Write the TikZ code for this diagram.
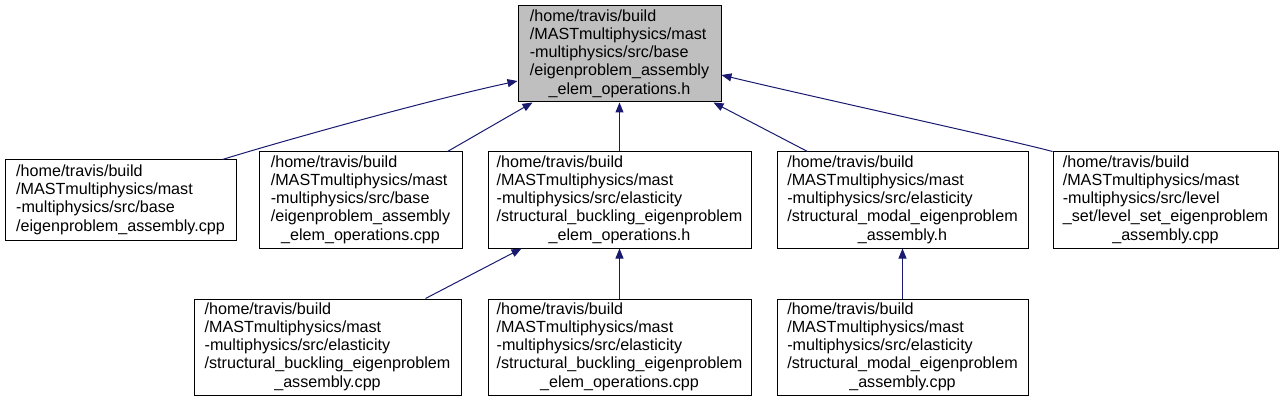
\documentclass[tikz,border=0pt]{standalone}
\usepackage{fontspec}
\setmainfont{Liberation Sans}
\usepackage{tikz}
\usetikzlibrary{arrows.meta,positioning,calc}
\definecolor{EdgeBlue}{HTML}{191970}
\definecolor{CurGray}{HTML}{BFBFBF}
\newcommand{\lastline}[1]{\multicolumn{1}{@{}c@{}}{#1}}
\tikzset{
  % File box
  FB/.style={rectangle,draw=black,line width=0.75pt,fill=white,
             inner sep=0pt,minimum height=72pt,
             font=\fontsize{12.1}{13.7}\selectfont},
  % Current file
  cur/.style={FB,fill=CurGray},
  % Include edge
  dep/.style={-{Triangle[length=7.5pt,width=6pt]},draw=EdgeBlue,line width=0.75pt}
}
\begin{document}
\begin{tikzpicture}[x=0.75pt,y=-0.75pt]
  \useasboundingbox (0,0) rectangle (1283,403);
  \node[cur,minimum width=152.25pt] (elemh) at (619.5,54)
    {\begin{tabular}{@{}l@{}}/home/travis/build\\/MASTmultiphysics/mast\\-multiphysics/src/base\\/eigenproblem\_assembly\\\lastline{\_elem\_operations.h}\end{tabular}};
  % second row
  \node[FB,minimum width=173.25pt,minimum height=60pt] (asmcpp) at (120.5,200)
    {\begin{tabular}{@{}l@{}}/home/travis/build\\/MASTmultiphysics/mast\\-multiphysics/src/base\\/eigenproblem\_assembly.cpp\end{tabular}};
  \node[FB,minimum width=152.25pt] (elemcpp) at (360.5,200)
    {\begin{tabular}{@{}l@{}}/home/travis/build\\/MASTmultiphysics/mast\\-multiphysics/src/base\\/eigenproblem\_assembly\\\lastline{\_elem\_operations.cpp}\end{tabular}};
  \node[FB,minimum width=197.25pt] (bucklingh) at (619.5,200)
    {\begin{tabular}{@{}l@{}}/home/travis/build\\/MASTmultiphysics/mast\\-multiphysics/src/elasticity\\/structural\_buckling\_eigenproblem\\\lastline{\_elem\_operations.h}\end{tabular}};
  \node[FB,minimum width=188.25pt] (modalh) at (902.5,200)
    {\begin{tabular}{@{}l@{}}/home/travis/build\\/MASTmultiphysics/mast\\-multiphysics/src/elasticity\\/structural\_modal\_eigenproblem\\\lastline{\_assembly.h}\end{tabular}};
  \node[FB,minimum width=168.75pt] (levelset) at (1165.5,200)
    {\begin{tabular}{@{}l@{}}/home/travis/build\\/MASTmultiphysics/mast\\-multiphysics/src/level\\\_set/level\_set\_eigenproblem\\\lastline{\_assembly.cpp}\end{tabular}};
  % third row
  \node[FB,minimum width=200.25pt] (bucklingasm) at (327.5,347)
    {\begin{tabular}{@{}l@{}}/home/travis/build\\/MASTmultiphysics/mast\\-multiphysics/src/elasticity\\/structural\_buckling\_eigenproblem\\\lastline{\_assembly.cpp}\end{tabular}};
  \node[FB,minimum width=197.25pt] (bucklingelem) at (619.5,347)
    {\begin{tabular}{@{}l@{}}/home/travis/build\\/MASTmultiphysics/mast\\-multiphysics/src/elasticity\\/structural\_buckling\_eigenproblem\\\lastline{\_elem\_operations.cpp}\end{tabular}};
  \node[FB,minimum width=188.25pt] (modalasm) at (902.5,347)
    {\begin{tabular}{@{}l@{}}/home/travis/build\\/MASTmultiphysics/mast\\-multiphysics/src/elasticity\\/structural\_modal\_eigenproblem\\\lastline{\_assembly.cpp}\end{tabular}};
  % edges
  \draw[dep] ($(asmcpp.north east)+(-14,0)$) .. controls (262,147) and (420,102) .. ($(elemh.west)+(0,27)$);
  \draw[dep] ($(elemcpp.north east)+(-15,0)$) -- ($(elemh.south west)+(15,0)$);
  \draw[dep] (bucklingh.north) -- (elemh.south);
  \draw[dep] ($(modalh.north west)+(31,0)$) -- ($(elemh.south east)+(-8,0)$);
  \draw[dep] (levelset.north west) .. controls (1010,140) and (800,94) .. ($(elemh.east)+(0,21)$);
  \draw[dep] ($(bucklingasm.north east)+(-36,0)$) -- ($(bucklingh.south west)+(34,0)$);
  \draw[dep] (bucklingelem.north) -- (bucklingh.south);
  \draw[dep] (modalasm.north) -- (modalh.south);
\end{tikzpicture}
\end{document}
